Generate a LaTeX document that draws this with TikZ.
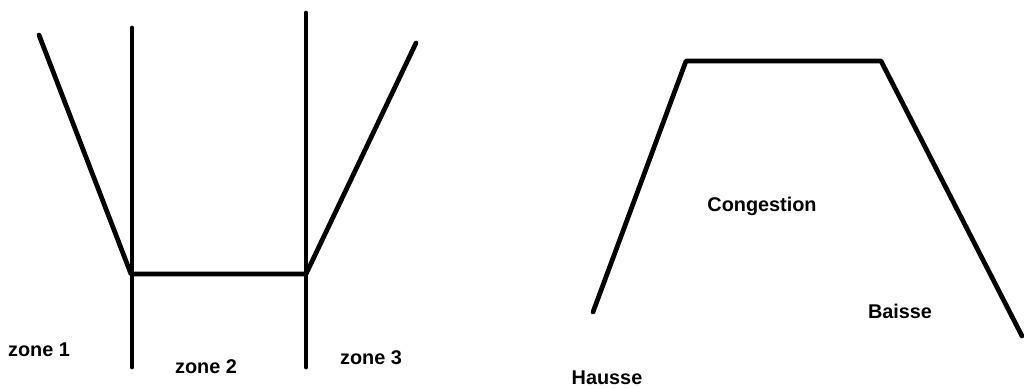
\documentclass[tikz,border=0pt]{standalone}
\usepackage{fontspec}
\setmainfont{Liberation Sans}
\usepackage{tikz}
\usetikzlibrary{positioning}

\begin{document}
\begin{tikzpicture}[
      x=0.02cm,y=-0.02cm,
      every node/.style={font=\fontsize{11.3}{13}\selectfont\bfseries,inner sep=0pt},
      curve/.style={line width=2.7pt,line cap=round,line join=round}
  ]
    \useasboundingbox (0,0) rectangle (1024,387);

    % zones (left)
    \coordinate (ll) at (131,274);
    \coordinate (lr) at (306,274);
    \draw[curve] (39,35) -- (ll) -- (lr) -- (416,43);
    \draw[curve] (132,28) -- (132,367);
    \draw[curve] (306,13) -- (306,367);

    \node (z1) at (39,350) {zone 1};
    \node (z2) at (206,367) {zone 2};
    \node (z3) at (371,358) {zone 3};

    % trapeze (right)
    \coordinate (tl) at (686,61);
    \coordinate (tr) at (881,61);
    \draw[curve] (593,312) -- (tl) -- (tr) -- (1022,336);

    \node (cong) at (762,206) {Congestion};
    \node (baisse) at (900,311) {Baisse};
    \node (hausse) at (607,378) {Hausse};
  \end{tikzpicture}
\end{document}
